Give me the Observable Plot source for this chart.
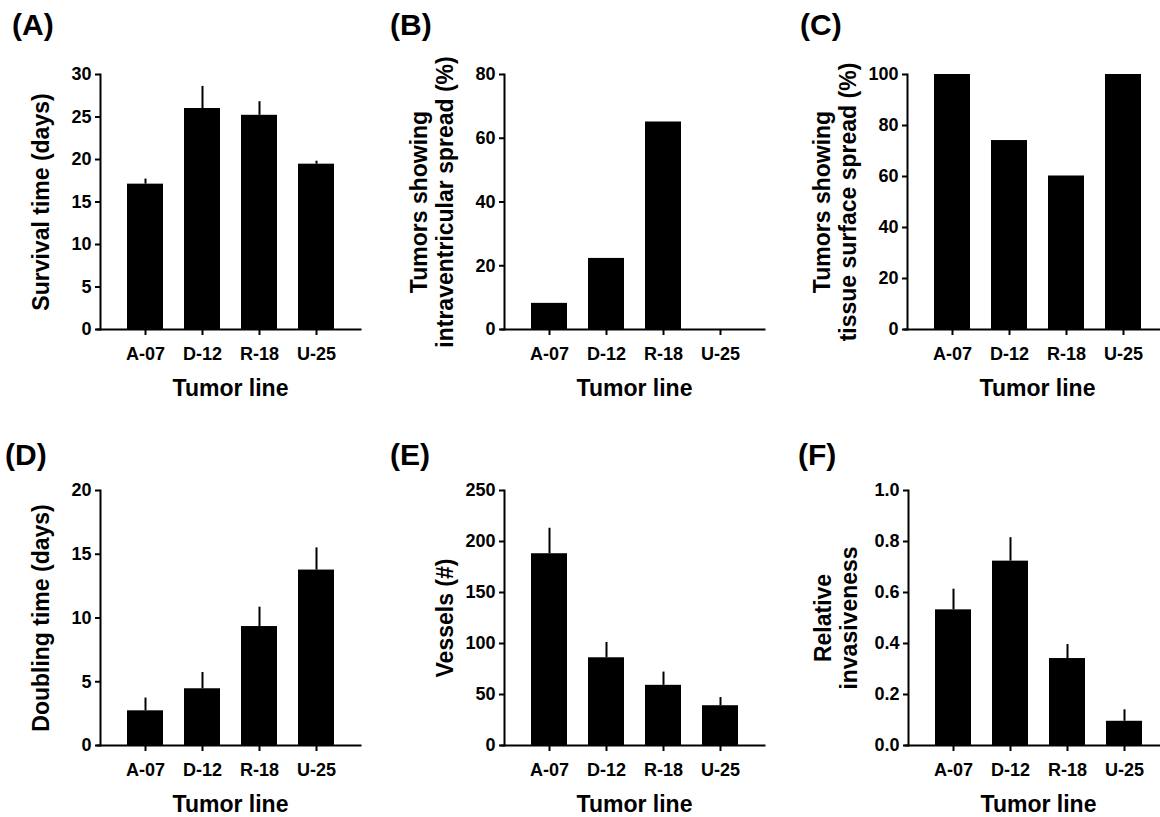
<!DOCTYPE html>
<html>
<head>
<meta charset="utf-8">
<script src="https://cdn.jsdelivr.net/npm/d3@7"></script>
<script src="https://cdn.jsdelivr.net/npm/@observablehq/plot@0.6"></script>
<style>
  html, body { margin: 0; padding: 0; background: #fff; overflow: hidden; }
  #root { position: relative; width: 1160px; height: 817px; overflow: hidden; font-family: "Liberation Sans", Arial, sans-serif; }
  .panel { position: absolute; width: 364px; height: 350px; }
  .panel svg { max-width: none !important; }
  .letter { position: absolute; font-weight: bold; font-size: 30px; line-height: 1; color: #000; white-space: nowrap; }
</style>
</head>
<body>
<div id="root"></div>
<script>
// ---- data ----
const tumorLines = ["A-07", "D-12", "R-18", "U-25"];

const survivalMean = [17.1, 26.0, 25.2, 19.45];
const survivalTop  = [17.7, 28.6, 26.8, 19.8];

const intraventricularPct = [8.2, 22.3, 65.1, 0];

const surfacePct = [100, 74.1, 60.2, 100];

const doublingMean = [2.72, 4.45, 9.33, 13.76];
const doublingTop  = [3.72, 5.73, 10.85, 15.5];

const vesselsMean = [188, 86, 59, 39];
const vesselsTop  = [213, 101, 72, 47];

const invasMean = [0.532, 0.723, 0.341, 0.095];
const invasTop  = [0.613, 0.815, 0.396, 0.14];

const panels = [
  {letter: "(A)", ylabel: "Survival time (days)", mean: survivalMean, top: survivalTop, domain: [0, 30], ticks: [0, 5, 10, 15, 20, 25, 30], fmt: d3.format("d"), left: 0, topPx: 54, lx: 12, ly: 10},
  {letter: "(B)", ylabel: "Tumors showing\nintraventricular spread (%)", mean: intraventricularPct, top: null, domain: [0, 80], ticks: [0, 20, 40, 60, 80], fmt: d3.format("d"), left: 404, topPx: 54, lx: 390, ly: 10},
  {letter: "(C)", ylabel: "Tumors showing\ntissue surface spread (%)", mean: surfacePct, top: null, domain: [0, 100], ticks: [0, 20, 40, 60, 80, 100], fmt: d3.format("d"), left: 807, topPx: 54, lx: 800, ly: 10},
  {letter: "(D)", ylabel: "Doubling time (days)", mean: doublingMean, top: doublingTop, domain: [0, 20], ticks: [0, 5, 10, 15, 20], fmt: d3.format("d"), left: 0, topPx: 470, lx: 5, ly: 440},
  {letter: "(E)", ylabel: "Vessels (#)", mean: vesselsMean, top: vesselsTop, domain: [0, 250], ticks: [0, 50, 100, 150, 200, 250], fmt: d3.format("d"), left: 404, topPx: 470, lx: 390, ly: 440},
  {letter: "(F)", ylabel: "Relative\ninvasiveness", mean: invasMean, top: invasTop, domain: [0, 1], ticks: [0, 0.2, 0.4, 0.6, 0.8, 1.0], fmt: d3.format(".1f"), left: 808, topPx: 470, lx: 798, ly: 440}
];

const root = document.getElementById("root");

for (const p of panels) {
  const rows = tumorLines.map((t, i) => ({line: t, mean: p.mean[i], top: p.top ? p.top[i] : null}));
  const marks = [
    Plot.barY(rows, {x: "line", y: "mean", fill: "black"}),
  ];
  if (p.top) marks.push(Plot.ruleX(rows, {x: "line", y1: "mean", y2: "top", stroke: "black", strokeWidth: 2}));
  marks.push(
    Plot.frame({anchor: "left", stroke: "black", strokeWidth: 2}),
    Plot.frame({anchor: "bottom", stroke: "black", strokeWidth: 2, insetLeft: -3}),
    Plot.axisY({ticks: p.ticks, tickFormat: p.fmt, tickSize: 5, tickPadding: 4, strokeWidth: 2, label: null, fontSize: 18}),
    Plot.axisX({tickSize: 6, tickPadding: 12, strokeWidth: 2, label: null, fontSize: 18}),
    Plot.text([p.ylabel], {frameAnchor: "left", rotate: -90, textAnchor: "middle", lineAnchor: "bottom", dx: -52, fontSize: 23, fontWeight: "bold", lineHeight: 1.12, fill: "black"}),
    Plot.text(["Tumor line"], {frameAnchor: "bottom", lineAnchor: "top", dy: 50, fontSize: 23, fontWeight: "bold", fill: "black"})
  );
  const chart = Plot.plot({
    width: 364,
    height: 350,
    marginLeft: 100,
    marginRight: 4,
    marginTop: 20,
    marginBottom: 75,
    x: {domain: tumorLines, paddingInner: 0.376, paddingOuter: 0.433},
    y: {domain: p.domain},
    style: {fontFamily: "'Liberation Sans', Arial, sans-serif", fontWeight: "bold", fontSize: "18px", color: "black", background: "transparent", overflow: "visible", maxWidth: "none"},
    marks
  });
  const div = document.createElement("div");
  div.className = "panel";
  div.style.left = p.left + "px";
  div.style.top = p.topPx + "px";
  div.appendChild(chart);
  root.appendChild(div);

  const lab = document.createElement("div");
  lab.className = "letter";
  lab.style.left = p.lx + "px";
  lab.style.top = p.ly + "px";
  lab.textContent = p.letter;
  root.appendChild(lab);
}
</script>
</body>
</html>
